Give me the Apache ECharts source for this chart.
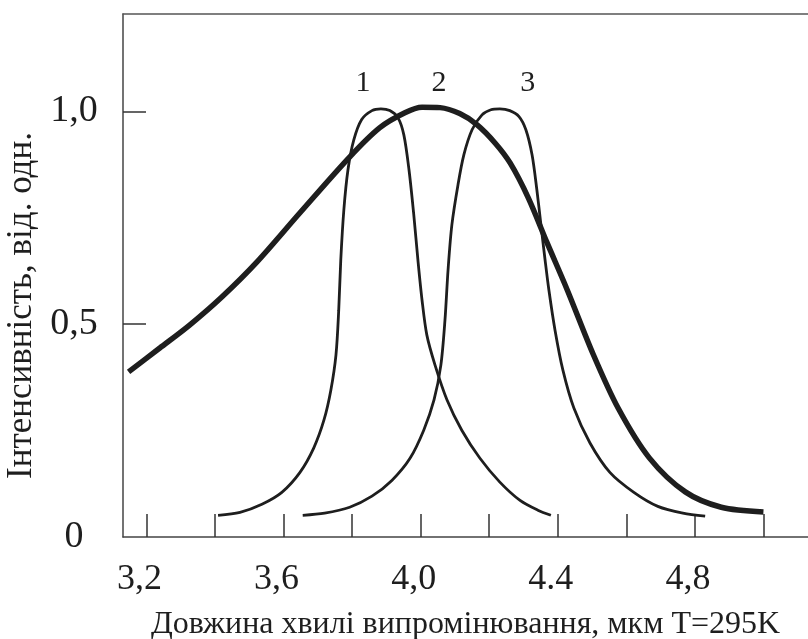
<!DOCTYPE html>
<html>
<head>
<meta charset="utf-8">
<script src="https://cdn.jsdelivr.net/npm/echarts@6/dist/echarts.min.js"></script>
<style>
  html, body { margin: 0; padding: 0; background: #fff; }
  #main { width: 808px; height: 639px; }
</style>
</head>
<body>
<div id="main"></div>
<script>
var myChart = echarts.init(document.getElementById('main'));

// крива 2 (широка, товста)
var curve2X = [3.148, 3.239, 3.326, 3.420, 3.522, 3.648, 3.794, 3.881, 3.954, 4.004, 4.057, 4.114, 4.164, 4.217, 4.261, 4.314, 4.369, 4.428, 4.503, 4.576, 4.667, 4.772, 4.877, 5.000];
var curve2Y = [0.388, 0.444, 0.498, 0.564, 0.646, 0.762, 0.894, 0.962, 0.997, 1.010, 1.009, 0.995, 0.969, 0.926, 0.879, 0.797, 0.691, 0.580, 0.430, 0.303, 0.186, 0.106, 0.070, 0.059];
// крива 1
var curve1X = [3.409, 3.473, 3.537, 3.595, 3.648, 3.688, 3.718, 3.738, 3.753, 3.761, 3.767, 3.776, 3.788, 3.805, 3.828, 3.858, 3.884, 3.910, 3.934, 3.951, 3.966, 3.980, 3.992, 4.004, 4.018, 4.042, 4.077, 4.120, 4.173, 4.231, 4.290, 4.342, 4.380];
var curve1Y = [0.051, 0.058, 0.077, 0.105, 0.152, 0.209, 0.275, 0.345, 0.428, 0.533, 0.651, 0.769, 0.863, 0.933, 0.981, 1.002, 1.006, 1.002, 0.985, 0.945, 0.863, 0.757, 0.651, 0.557, 0.475, 0.404, 0.322, 0.251, 0.185, 0.129, 0.086, 0.063, 0.051];
// крива 3
var curve3X = [3.656, 3.720, 3.793, 3.858, 3.916, 3.969, 4.009, 4.039, 4.059, 4.071, 4.080, 4.091, 4.109, 4.126, 4.150, 4.179, 4.205, 4.231, 4.260, 4.287, 4.307, 4.325, 4.339, 4.351, 4.363, 4.374, 4.392, 4.415, 4.447, 4.494, 4.552, 4.622, 4.692, 4.765, 4.830];
var curve3Y = [0.051, 0.056, 0.070, 0.096, 0.133, 0.185, 0.251, 0.322, 0.404, 0.510, 0.628, 0.733, 0.828, 0.898, 0.957, 0.992, 1.004, 1.006, 1.002, 0.988, 0.957, 0.898, 0.816, 0.733, 0.651, 0.581, 0.486, 0.392, 0.303, 0.221, 0.152, 0.105, 0.072, 0.056, 0.049];

var xTicks = [3.2, 3.4, 3.6, 3.8, 4.0, 4.2, 4.4, 4.6, 4.8, 5.0];
var xLabelValues = [3.2, 3.6, 4.0, 4.4, 4.8];
var xLabelTexts = ['3,2', '3,6', '4,0', '4.4', '4,8'];
var yTicks = [0.5, 1.0];
var yLabelValues = [0, 0.5, 1.0];
var yLabelTexts = ['0', '0,5', '1,0'];

function pairs(xs, ys) {
    var out = [];
    for (var i = 0; i < xs.length; i++) out.push([xs[i], ys[i]]);
    return out;
}

var font = 'Liberation Serif';
var ink = '#1e1e1e';

function peakLabel(text, offset) {
    return {
        symbol: 'circle',
        symbolSize: 0,
        data: [{ type: 'max', valueDim: 'y' }],
        label: {
            show: true,
            position: 'inside',
            formatter: text,
            offset: offset,
            fontFamily: font,
            fontSize: 30,
            color: ink
        }
    };
}

var option = {
    animation: false,
    backgroundColor: '#fff',
    grid: { left: 123, right: 0, top: 14, bottom: 102, outerBoundsMode: 'none', containLabel: false },
    xAxis: [{
        type: 'value',
        min: 3.1317,
        max: 5.13,
        name: 'Довжина хвилі випромінювання, мкм T=295K',
        nameLocation: 'middle',
        nameGap: 72,
        nameTextStyle: { fontFamily: font, fontSize: 32, color: ink },
        axisLine: { show: true, lineStyle: { color: '#444', width: 1.5 } },
        axisTick: { show: true, inside: true, length: 23, customValues: xTicks, lineStyle: { color: '#333', width: 1.5 } },
        axisLabel: {
            customValues: xLabelValues,
            margin: 25,
            padding: [0, 14, 0, 0],
            fontFamily: font,
            fontSize: 36,
            color: ink,
            formatter: function (v) {
                var i = xLabelValues.indexOf(Math.round(v * 10) / 10);
                return i >= 0 ? xLabelTexts[i] : '';
            }
        },
        splitLine: { show: false }
    }, {
        type: 'value',
        position: 'top',
        min: 3.1317,
        max: 5.13,
        axisLine: { show: true, lineStyle: { color: '#555', width: 1.5 } },
        axisTick: { show: false },
        axisLabel: { show: false },
        splitLine: { show: false }
    }],
    yAxis: {
        type: 'value',
        min: 0,
        max: 1.229,
        name: 'Інтенсивність, від. одн.',
        nameLocation: 'middle',
        nameRotate: 90,
        nameGap: 74,
        nameTextStyle: { fontFamily: font, fontSize: 35, color: ink, padding: [0, 60, 0, 0] },
        axisLine: { show: true, lineStyle: { color: '#444', width: 1.5 } },
        axisTick: { show: true, inside: true, length: 23, customValues: yTicks, lineStyle: { color: '#333', width: 1.5 } },
        axisLabel: {
            customValues: yLabelValues,
            margin: 49,
            align: 'center',
            padding: [10, 0, 0, 0],
            fontFamily: font,
            fontSize: 38,
            color: ink,
            formatter: function (v) {
                var i = yLabelValues.indexOf(Math.round(v * 10) / 10);
                return i >= 0 ? yLabelTexts[i] : '';
            }
        },
        splitLine: { show: false }
    },
    series: [{
        name: '2',
        type: 'line',
        data: pairs(curve2X, curve2Y),
        smooth: 0.3,
        showSymbol: false,
        lineStyle: { color: ink, width: 5.5 },
        markPoint: peakLabel('2', [17, -24])
    }, {
        name: '1',
        type: 'line',
        data: pairs(curve1X, curve1Y),
        smooth: 0.3,
        showSymbol: false,
        lineStyle: { color: ink, width: 2.8 },
        markPoint: peakLabel('1', [-18, -26])
    }, {
        name: '3',
        type: 'line',
        data: pairs(curve3X, curve3Y),
        smooth: 0.3,
        showSymbol: false,
        lineStyle: { color: ink, width: 2.8 },
        markPoint: peakLabel('3', [28, -26])
    }]
};

myChart.setOption(option);
</script>
</body>
</html>
